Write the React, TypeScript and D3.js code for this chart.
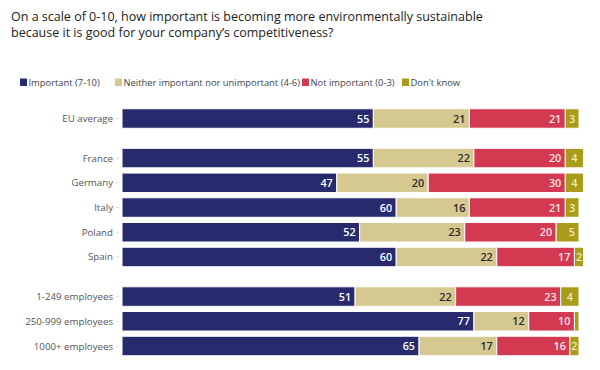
import * as d3 from "d3";

const categories = ["EU average", "France", "Germany", "Italy", "Poland", "Spain", "1-249 employees", "250-999 employees", "1000+ employees"];
const groups = [0, 1, 1, 1, 1, 1, 2, 2, 2];
const seriesNames = ["Important (7-10)", "Neither important nor unimportant (4-6)", "Not important (0-3)", "Don't know"];
const important = [55, 55, 47, 60, 52, 60, 51, 77, 65];
const neither = [21, 22, 20, 16, 23, 22, 22, 12, 17];
const notImportant = [21, 20, 30, 21, 20, 17, 23, 10, 16];
const dontKnow = [3, 4, 4, 3, 5, 2, 4, 1, 2];
const colors = ["#272a6d", "#d5c890", "#d33a52", "#a99b1b"];
const labelColors = ["#ffffff", "#2b2b2b", "#f6e4e8", "#f3ebb0"];

const W = 600, H = 370;

export default function App() {
  const x = d3.scaleLinear().domain([0, 100]).range([122, 579]);
  const slot = (i: number) => i + groups[i] * 0.6;
  const y = d3.scaleLinear().domain([0, 9.2]).range([118.5, 346]);
  const barH = 19.5;

  const rows = categories.map((c, i) => ({
    cat: c,
    vals: [important[i], neither[i], notImportant[i], dontKnow[i]],
  }));
  const stack = d3.stack<any>().keys(["0", "1", "2", "3"]).value((d, k) => d.vals[+k]);
  const layers = stack(rows);

  const font = "'Open Sans', 'Noto Sans', sans-serif";
  const legendX = [20, 115, 302, 402];

  return (
    <svg width={W} height={H} style={{ position: "absolute", left: 0, top: 0, background: "#fff" }} fontFamily={font}>
      <text x={11} y={20.5} fontSize={12.5} fill="#222">On a scale of 0-10, how important is becoming more environmentally sustainable</text>
      <text x={11} y={37} fontSize={12.5} fill="#222">because it is good for your company’s competitiveness?</text>

      {seriesNames.map((s, k) => (
        <g key={s} transform={`translate(${legendX[k]},78.5)`}>
          <rect width={7} height={7.5} fill={colors[k]} />
          <text x={8.5} y={7.5} fontSize={9.4} fill="#444">{s}</text>
        </g>
      ))}

      {categories.map((c, i) => (
        <g key={c}>
          <text x={113} y={y(slot(i)) + 3.5} fontSize={9.7} fill="#555" textAnchor="end">{c}</text>
          <line x1={116} x2={119} y1={y(slot(i))} y2={y(slot(i))} stroke="#ddd" />
        </g>
      ))}

      {layers.map((layer, k) => (
        <g key={k}>
          {layer.map((d, i) => {
            const x0 = x(d[0]), x1 = x(d[1]);
            const cy = y(slot(i));
            const v = d[1] - d[0];
            return (
              <g key={i}>
                <rect x={x0} y={cy - barH / 2} width={Math.max(0, x1 - x0)} height={barH} fill={colors[k]} stroke="#fff" strokeWidth={1} />
                {v > 1 && (
                  <text x={x1 - (v < 5 ? (x1 - x0) / 2 : 4)} y={cy + 4} fontSize={10.8} fontWeight={600} fill={labelColors[k]} textAnchor={v < 5 ? "middle" : "end"}>{v}</text>
                )}
              </g>
            );
          })}
        </g>
      ))}
    </svg>
  );
}
